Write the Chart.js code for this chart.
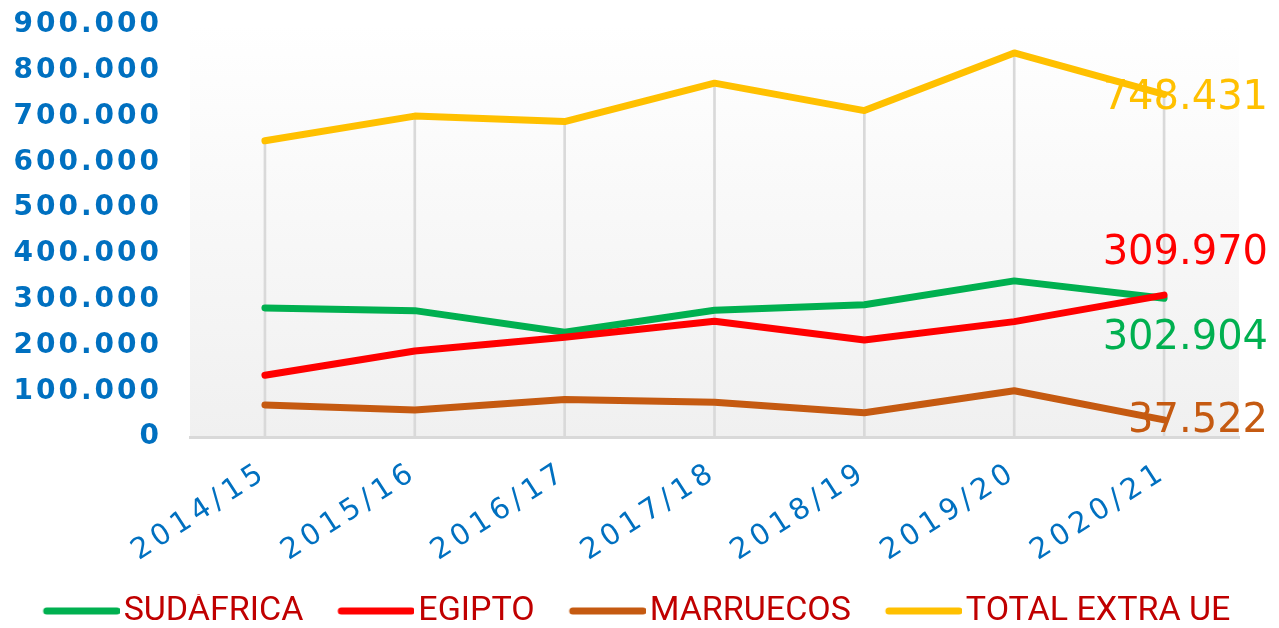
<!DOCTYPE html>
<html><head><meta charset="utf-8">
<script src="https://cdn.jsdelivr.net/npm/chart.js@4.4.1/dist/chart.umd.min.js"></script>
<style>html,body{margin:0;padding:0;background:#fff}#wrap{width:1279px;height:628px;position:relative}</style>
</head><body><div id="wrap"><canvas id="c"></canvas></div>
<script>
const CATEGORIES = ['2014/15', '2015/16', '2016/17', '2017/18', '2018/19', '2019/20', '2020/21'];
const SUDAFRICA = [282000, 276000, 229000, 277000, 289000, 341000, 302904];
const EGIPTO    = [135000, 188000, 218000, 253000, 212000, 252000, 309970];
const MARRUECOS = [70000, 59000, 82000, 76000, 53000, 101000, 37522];
const TOTAL     = [647000, 701000, 689000, 773000, 713000, 839000, 748431];
const SERIES_NAMES = ['SUDÁFRICA', 'EGIPTO', 'MARRUECOS', 'TOTAL EXTRA UE'];
const Y_MIN = 0, Y_MAX = 900000, Y_STEP = 100000;

const COLORS = ['#00b050', '#ff0000', '#c55a11', '#ffc000'];
// end-label placement (style, not data): offset from last point
const LABEL_STYLE = [{dx: 104, dy: 40}, {dx: 104, dy: -41}, {dx: 104, dy: 2}, {dx: 104, dy: 4}];

function fmt(v) { return String(Math.round(v)).replace(/\B(?=(\d{3})+(?!\d))/g, '.'); }

function legendImg(color) {
  const cv = document.createElement('canvas');
  cv.width = 124; cv.height = 10;
  const c = cv.getContext('2d');
  c.strokeStyle = color; c.lineWidth = 7; c.lineCap = 'round';
  c.beginPath(); c.moveTo(51, 5); c.lineTo(121, 5); c.stroke();
  return cv;
}

function spacing(sp) {
  return {
    beforeUpdate(s) { s.ctx.letterSpacing = sp; },
    afterUpdate(s) {
      s.ctx.letterSpacing = '0px';
      if (!s._spPatched) {
        const orig = s.drawLabels;
        s.drawLabels = function (a) {
          const c = this.ctx, p = c.letterSpacing;
          c.letterSpacing = sp; orig.call(this, a); c.letterSpacing = p;
        };
        s._spPatched = true;
      }
    }
  };
}

const plotBg = {
  id: 'plotBg',
  beforeDraw(chart) {
    const {ctx, chartArea: a} = chart;
    const g = ctx.createLinearGradient(0, a.top, 0, a.bottom);
    g.addColorStop(0, '#ffffff');
    g.addColorStop(1, '#f0f0f0');
    ctx.save(); ctx.fillStyle = g;
    ctx.fillRect(a.left, a.top, a.right - a.left, a.bottom - a.top);
    ctx.restore();
  }
};

const endLabels = {
  id: 'endLabels',
  afterDatasetsDraw(chart) {
    const ctx = chart.ctx;
    ctx.save();
    ctx.letterSpacing = '0px';
    ctx.font = '40px "DejaVu Sans"';
    ctx.textAlign = 'right';
    ctx.textBaseline = 'middle';
    chart.data.datasets.forEach((ds, i) => {
      if (ds.type === 'bar') return;
      const meta = chart.getDatasetMeta(i);
      const last = meta.data.length - 1;
      const pt = meta.data[last];
      const st = LABEL_STYLE[i];
      ctx.fillStyle = ds.borderColor;
      ctx.fillText(fmt(ds.data[last]), pt.x + st.dx, pt.y + st.dy);
    });
    ctx.restore();
  }
};

const seriesData = [SUDAFRICA, EGIPTO, MARRUECOS, TOTAL];
const lineSets = seriesData.map((d, i) => ({
  type: 'line',
  label: SERIES_NAMES[i],
  data: d,
  borderColor: COLORS[i],
  backgroundColor: COLORS[i],
  borderWidth: 7,
  pointRadius: 0,
  pointHoverRadius: 0,
  tension: 0,
  borderCapStyle: 'round',
  borderJoinStyle: 'round',
  fill: false,
  order: 4 - i
}));

const dropLines = {
  type: 'bar',
  label: '',
  data: TOTAL,
  backgroundColor: '#d9d9d9',
  barThickness: 2,
  order: 10
};

const ySp = spacing('3px');
const xSp = spacing('5px');

new Chart(document.getElementById('c'), {
  data: { labels: CATEGORIES, datasets: [...lineSets, dropLines] },
  options: {
    responsive: true,
    maintainAspectRatio: false,
    animation: false,
    layout: { padding: { left: 0, right: 40, top: 25, bottom: -10 } },
    plugins: {
      tooltip: { enabled: false },
      legend: {
        position: 'bottom',
        labels: {
          usePointStyle: true,
          pointStyleWidth: 98,
          padding: 0,
          color: '#c00000',
          font: { family: 'Roboto', size: 34 },
          generateLabels(chart) {
            return chart.data.datasets.map((ds, i) => ({
              text: ds.label,
              fillStyle: ds.borderColor,
              strokeStyle: ds.borderColor,
              lineWidth: 0,
              pointStyle: ds.label ? legendImg(ds.borderColor) : 'line',
              hidden: false,
              datasetIndex: i,
              fontColor: '#c00000'
            })).filter(it => it.text);
          }
        }
      }
    },
    scales: {
      x: {
        offset: true,
        grid: { display: false, drawTicks: false },
        border: { display: true, color: '#d9d9d9', width: 3 },
        ticks: {
          color: '#0070c0',
          font: { family: 'DejaVu Sans', size: 29 },
          minRotation: 33, maxRotation: 33,
          padding: 18,
          autoSkip: false
        },
        beforeUpdate: xSp.beforeUpdate,
        afterUpdate: xSp.afterUpdate,
        afterFit(s) { s.height = 157; s.paddingTop = 0; }
      },
      y: {
        min: Y_MIN, max: Y_MAX,
        grid: { display: false, drawTicks: false },
        border: { display: false },
        ticks: {
          stepSize: Y_STEP,
          color: '#0070c0',
          font: { family: 'DejaVu Sans', size: 28, weight: 'bold' },
          padding: 28,
          callback: (v) => fmt(v)
        },
        beforeUpdate: ySp.beforeUpdate,
        afterUpdate: ySp.afterUpdate,
        afterFit(s) { s.width = 190; s.paddingTop = 0; s.paddingBottom = 0; }
      }
    }
  },
  plugins: [plotBg, endLabels]
});
</script>
</body></html>
